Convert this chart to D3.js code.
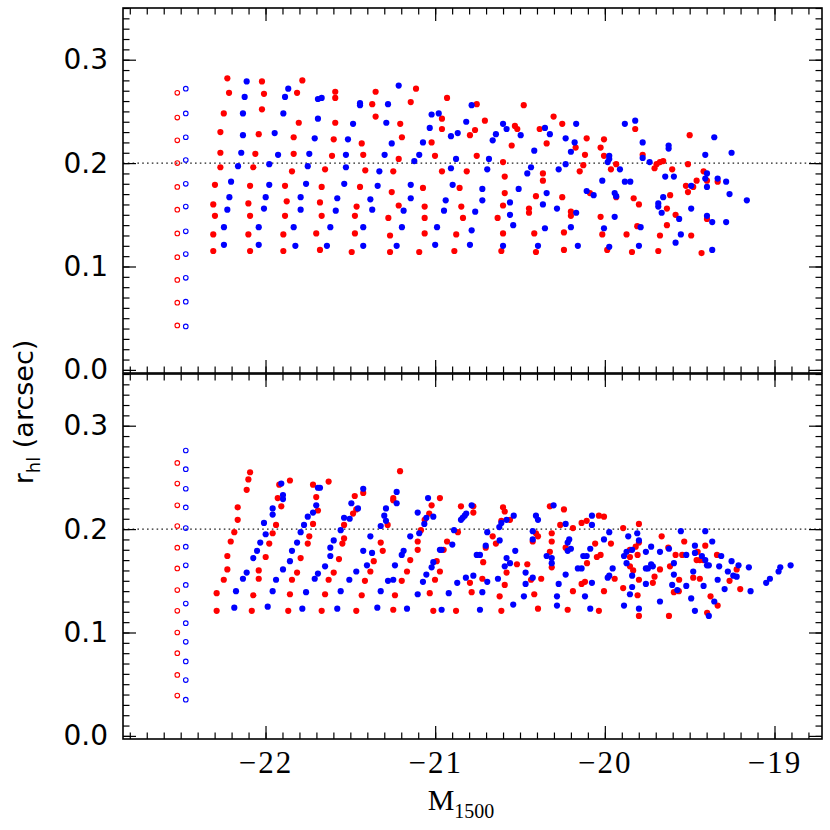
<!DOCTYPE html>
<html><head><meta charset="utf-8">
<script src="https://cdn.jsdelivr.net/npm/d3@7"></script>
<style>body{margin:0;background:#fff}</style></head>
<body><svg id="c" width="830" height="830"></svg>
<script>
// ---- data ----
const xTicks = [-22, -21, -20, -19];
const yTicks = [0.0, 0.1, 0.2, 0.3];
const refLine = 0.2;
const openRedX = -22.52, openBlueX = -22.47;
const topOpenRedY = [0.268,0.244,0.222,0.200,0.177,0.155,0.132,0.109,0.087,0.065,0.043];
const topOpenBlueY = [0.272,0.248,0.225,0.203,0.180,0.158,0.134,0.112,0.089,0.066,0.042];
const botOpenRedY = [0.264,0.244,0.223,0.203,0.182,0.162,0.141,0.121,0.100,0.080,0.059,0.039];
const botOpenBlueY = [0.276,0.258,0.239,0.221,0.201,0.183,0.165,0.146,0.128,0.109,0.091,0.072,0.054,0.035];

const topRed = [[-22.225,0.282],[-22.021,0.279],[-21.783,0.280],[-22.215,0.268],[-22.009,0.267],[-21.814,0.268],[-21.589,0.269],[-21.589,0.263],[-22.246,0.248],[-22.021,0.252],[-21.804,0.239],[-21.589,0.239],[-22.266,0.230],[-22.040,0.228],[-21.834,0.225],[-21.598,0.223],[-22.266,0.210],[-22.060,0.209],[-21.834,0.209],[-21.608,0.207],[-22.266,0.196],[-22.072,0.196],[-21.844,0.192],[-21.649,0.194],[-22.298,0.179],[-22.091,0.178],[-21.885,0.178],[-21.669,0.177],[-22.308,0.160],[-22.101,0.161],[-21.875,0.163],[-21.679,0.162],[-22.298,0.149],[-22.091,0.149],[-21.885,0.149],[-21.669,0.149],[-22.308,0.131],[-22.101,0.131],[-21.895,0.131],[-21.701,0.132],[-22.308,0.115],[-22.091,0.115],[-21.895,0.115],[-21.679,0.116],
[-21.351,0.269],[-21.113,0.272],[-21.371,0.257],[-21.144,0.259],[-20.930,0.263],[-20.755,0.257],[-21.351,0.245],[-21.206,0.238],[-20.960,0.243],[-20.707,0.241],[-21.433,0.219],[-21.196,0.225],[-20.960,0.233],[-20.765,0.232],[-20.795,0.227],[-21.424,0.208],[-21.215,0.204],[-21.021,0.220],[-21.001,0.207],[-20.755,0.207],[-21.412,0.193],[-21.247,0.192],[-20.960,0.192],[-20.814,0.192],[-21.443,0.177],[-21.256,0.172],[-21.072,0.176],[-20.856,0.176],[-21.463,0.158],[-21.215,0.159],[-21.062,0.158],[-20.846,0.158],[-21.473,0.149],[-21.276,0.147],[-21.062,0.147],[-20.836,0.147],[-21.473,0.132],[-21.266,0.130],[-21.062,0.132],[-20.876,0.131],[-21.492,0.114],[-21.266,0.114],[-21.094,0.114],[-20.887,0.115],
[-20.478,0.256],[-20.530,0.236],[-20.516,0.233],[-20.549,0.217],[-20.302,0.245],[-20.251,0.238],[-20.384,0.233],[-20.343,0.219],[-20.107,0.224],[-20.005,0.223],[-20.172,0.215],[-20.025,0.215],[-20.117,0.208],[-20.005,0.207],[-20.600,0.201],[-20.127,0.198],[-19.933,0.199],[-19.964,0.194],[-20.148,0.192],[-20.365,0.190],[-20.590,0.187],[-20.365,0.183],[-20.590,0.171],[-20.406,0.168],[-20.251,0.167],[-20.088,0.171],[-19.933,0.167],[-20.600,0.159],[-20.447,0.156],[-20.447,0.152],[-20.200,0.153],[-20.200,0.149],[-20.632,0.147],[-20.025,0.148],[-20.600,0.132],[-20.416,0.132],[-20.241,0.133],[-20.015,0.131],[-20.610,0.115],[-20.406,0.114],[-20.241,0.116],[-19.986,0.116],
[-19.821,0.233],[-19.500,0.227],[-19.777,0.208],[-19.707,0.195],[-19.695,0.199],[-19.675,0.201],[-19.656,0.202],[-19.603,0.194],[-19.510,0.199],[-19.418,0.192],[-19.459,0.183],[-19.522,0.178],[-19.479,0.177],[-19.510,0.172],[-19.398,0.183],[-19.335,0.182],[-19.615,0.169],[-19.830,0.166],[-19.799,0.160],[-19.634,0.156],[-19.583,0.150],[-19.634,0.140],[-19.809,0.139],[-19.398,0.146],[-19.872,0.131],[-19.675,0.130],[-19.491,0.130],[-19.840,0.114],[-19.685,0.115],[-19.430,0.113]];

const topBlue = [[-22.111,0.279],[-21.866,0.272],[-22.123,0.264],[-21.885,0.264],[-21.691,0.262],[-21.669,0.263],[-22.133,0.248],[-21.895,0.248],[-21.691,0.243],[-22.133,0.227],[-21.946,0.229],[-21.710,0.224],[-22.143,0.210],[-21.926,0.208],[-21.742,0.209],[-22.162,0.197],[-21.978,0.199],[-21.751,0.197],[-22.203,0.182],[-21.978,0.179],[-21.761,0.180],[-22.213,0.167],[-21.999,0.167],[-21.793,0.167],[-21.577,0.166],[-22.225,0.155],[-22.009,0.156],[-21.793,0.155],[-21.586,0.154],[-22.245,0.138],[-22.040,0.138],[-21.834,0.138],[-21.618,0.138],[-22.245,0.121],[-22.040,0.121],[-21.824,0.120],[-21.638,0.120],
[-21.215,0.275],[-21.443,0.258],[-21.443,0.256],[-21.278,0.257],[-20.785,0.256],[-21.021,0.247],[-20.979,0.248],[-21.484,0.238],[-21.288,0.239],[-21.032,0.234],[-20.817,0.240],[-21.514,0.223],[-21.256,0.219],[-21.072,0.220],[-20.907,0.226],[-20.867,0.229],[-21.526,0.208],[-21.298,0.208],[-21.094,0.208],[-21.123,0.202],[-20.877,0.204],[-21.526,0.196],[-21.329,0.192],[-20.907,0.195],[-21.536,0.180],[-21.339,0.178],[-21.144,0.179],[-20.897,0.179],[-20.722,0.175],[-21.382,0.165],[-21.144,0.166],[-20.938,0.164],[-20.722,0.164],[-21.371,0.155],[-21.186,0.154],[-20.948,0.154],[-20.764,0.153],[-21.424,0.138],[-21.196,0.138],[-20.989,0.138],[-20.785,0.135],[-21.424,0.120],[-21.227,0.120],[-21.000,0.121],[-20.795,0.121],
[-20.600,0.238],[-20.579,0.233],[-20.642,0.228],[-20.661,0.222],[-20.496,0.227],[-20.353,0.234],[-20.324,0.228],[-20.169,0.238],[-19.882,0.238],[-20.231,0.224],[-20.178,0.220],[-20.200,0.211],[-20.416,0.212],[-20.683,0.204],[-20.693,0.194],[-20.435,0.196],[-20.457,0.190],[-20.272,0.194],[-20.231,0.199],[-19.974,0.207],[-19.974,0.204],[-19.983,0.201],[-19.911,0.194],[-20.015,0.183],[-19.882,0.182],[-20.508,0.175],[-20.343,0.171],[-20.107,0.173],[-20.066,0.169],[-19.942,0.171],[-19.933,0.168],[-20.559,0.162],[-20.559,0.150],[-20.540,0.140],[-20.365,0.160],[-20.282,0.156],[-20.169,0.152],[-19.942,0.148],[-20.353,0.137],[-20.200,0.138],[-20.005,0.137],[-20.600,0.120],[-20.394,0.120],[-20.159,0.120],[-19.974,0.119],
[-19.821,0.241],[-19.777,0.220],[-19.777,0.205],[-19.736,0.201],[-19.624,0.217],[-19.624,0.214],[-19.355,0.225],[-19.253,0.210],[-19.408,0.208],[-19.644,0.187],[-19.593,0.187],[-19.850,0.182],[-19.398,0.190],[-19.408,0.185],[-19.335,0.185],[-19.285,0.182],[-19.491,0.178],[-19.398,0.177],[-19.265,0.170],[-19.163,0.164],[-19.656,0.167],[-19.685,0.161],[-19.685,0.158],[-19.665,0.152],[-19.562,0.146],[-19.491,0.156],[-19.398,0.149],[-19.367,0.143],[-19.285,0.143],[-19.789,0.138],[-19.552,0.131],[-19.583,0.123],[-19.799,0.120],[-19.367,0.116]];

const botRed = [[-22.091,0.255],[-22.101,0.248],[-22.111,0.238],[-22.164,0.221],[-22.164,0.209],[-22.184,0.197],[-22.205,0.188],[-22.225,0.174],[-22.225,0.161],[-22.246,0.151],[-22.288,0.138],[-22.288,0.121],[-21.919,0.243],[-21.856,0.247],[-21.928,0.230],[-21.907,0.222],[-21.938,0.204],[-21.958,0.196],[-21.978,0.186],[-21.999,0.173],[-22.040,0.160],[-22.040,0.152],[-22.072,0.136],[-22.081,0.121],[-21.720,0.243],[-21.628,0.246],[-21.701,0.231],[-21.691,0.218],[-21.720,0.205],[-21.742,0.193],[-21.751,0.186],[-21.793,0.172],[-21.814,0.158],[-21.844,0.151],[-21.856,0.137],[-21.866,0.121],[-21.537,0.191],[-21.547,0.186],[-21.567,0.171],[-21.598,0.158],[-21.628,0.151],[-21.649,0.137],[-21.669,0.121],[-21.537,0.204],
[-21.207,0.256],[-21.474,0.232],[-21.424,0.235],[-21.465,0.219],[-21.484,0.215],[-21.247,0.230],[-21.247,0.228],[-21.280,0.204],[-21.321,0.187],[-21.309,0.179],[-21.362,0.169],[-21.382,0.159],[-21.414,0.150],[-21.433,0.136],[-21.465,0.121],[-21.021,0.223],[-21.035,0.215],[-21.062,0.209],[-21.084,0.199],[-21.103,0.188],[-21.103,0.180],[-21.147,0.170],[-21.166,0.159],[-21.197,0.150],[-21.237,0.136],[-21.247,0.122],[-20.972,0.230],[-20.930,0.188],[-20.950,0.180],[-20.991,0.169],[-20.972,0.159],[-21.001,0.151],[-21.032,0.138],[-21.011,0.121],[-20.848,0.222],[-20.775,0.222],[-20.775,0.216],[-20.866,0.197],[-20.717,0.168],[-20.722,0.152],[-20.795,0.148],[-20.785,0.139],[-20.877,0.121],
[-20.600,0.221],[-20.590,0.217],[-20.610,0.208],[-20.559,0.209],[-20.661,0.193],[-20.642,0.186],[-20.702,0.182],[-20.579,0.158],[-20.590,0.146],[-20.620,0.135],[-20.610,0.121],[-20.518,0.166],[-20.457,0.166],[-20.435,0.151],[-20.375,0.152],[-20.416,0.137],[-20.394,0.123],[-20.324,0.222],[-20.241,0.219],[-20.263,0.204],[-20.406,0.196],[-20.394,0.193],[-20.425,0.188],[-20.313,0.196],[-20.313,0.188],[-20.324,0.178],[-20.313,0.163],[-20.231,0.182],[-20.188,0.201],[-20.137,0.206],[-20.107,0.208],[-20.035,0.213],[-20.005,0.212],[-20.057,0.186],[-20.047,0.173],[-20.025,0.175],[-19.964,0.186],[-20.105,0.167],[-20.137,0.147],[-20.117,0.149],[-19.942,0.152],[-20.188,0.140],[-20.005,0.140],[-19.892,0.143],[-19.892,0.201],[-20.219,0.122],[-20.035,0.121],
[-19.799,0.205],[-19.799,0.187],[-19.818,0.183],[-19.852,0.180],[-19.807,0.175],[-19.852,0.173],[-19.852,0.164],[-19.833,0.160],[-19.799,0.151],[-19.807,0.136],[-19.799,0.116],[-19.665,0.193],[-19.675,0.161],[-19.707,0.154],[-19.717,0.148],[-19.622,0.116],[-19.626,0.182],[-19.616,0.164],[-19.583,0.175],[-19.544,0.175],[-19.562,0.151],[-19.564,0.140],[-19.593,0.139],[-19.532,0.188],[-19.479,0.153],[-19.440,0.152],[-19.453,0.178],[-19.459,0.170],[-19.440,0.170],[-19.408,0.184],[-19.339,0.175],[-19.420,0.170],[-19.377,0.135],[-19.335,0.126],[-19.397,0.119],[-19.223,0.161],[-19.265,0.150],[-19.202,0.142]];

const botBlue = [[-21.907,0.244],[-21.897,0.233],[-21.897,0.229],[-21.958,0.220],[-21.958,0.214],[-22.009,0.206],[-21.999,0.195],[-22.031,0.187],[-22.050,0.179],[-22.072,0.172],[-22.111,0.158],[-22.133,0.152],[-22.174,0.140],[-22.184,0.124],[-21.691,0.240],[-21.679,0.240],[-21.701,0.223],[-21.720,0.216],[-21.751,0.212],[-21.773,0.204],[-21.793,0.197],[-21.814,0.187],[-21.844,0.179],[-21.856,0.169],[-21.897,0.161],[-21.938,0.151],[-21.958,0.140],[-21.987,0.125],[-21.537,0.211],[-21.557,0.199],[-21.598,0.189],[-21.618,0.182],[-21.618,0.174],[-21.649,0.164],[-21.691,0.157],[-21.710,0.152],[-21.761,0.139],[-21.783,0.123],[-21.577,0.123],[-21.557,0.140],
[-21.424,0.239],[-21.455,0.220],[-21.494,0.225],[-21.504,0.210],[-21.227,0.236],[-21.227,0.225],[-21.290,0.220],[-21.300,0.213],[-21.290,0.208],[-21.321,0.203],[-21.382,0.193],[-21.424,0.179],[-21.372,0.177],[-21.402,0.165],[-21.465,0.159],[-21.506,0.151],[-21.321,0.140],[-21.341,0.124],[-21.042,0.230],[-21.103,0.216],[-21.052,0.211],[-21.011,0.212],[-21.064,0.205],[-21.094,0.196],[-21.147,0.193],[-21.186,0.179],[-21.197,0.175],[-21.237,0.165],[-21.247,0.151],[-21.278,0.150],[-21.103,0.137],[-21.166,0.123],[-20.972,0.180],[-20.962,0.180],[-21.011,0.168],[-21.021,0.163],[-21.052,0.156],[-21.072,0.149],[-20.920,0.138],[-20.962,0.122],[-20.889,0.199],[-20.899,0.185],[-20.785,0.223],[-20.817,0.215],[-20.826,0.213],[-20.838,0.211],[-20.848,0.209],[-20.755,0.175],[-20.736,0.175],[-20.819,0.153],[-20.775,0.155],[-20.870,0.148],[-20.736,0.122],[-20.702,0.184],[-20.722,0.139],
[-20.693,0.197],[-20.622,0.202],[-20.610,0.206],[-20.579,0.209],[-20.537,0.213],[-20.620,0.189],[-20.528,0.179],[-20.579,0.172],[-20.559,0.167],[-20.590,0.164],[-20.630,0.152],[-20.693,0.149],[-20.540,0.127],[-20.302,0.223],[-20.406,0.213],[-20.394,0.209],[-20.425,0.198],[-20.425,0.190],[-20.467,0.158],[-20.425,0.153],[-20.467,0.147],[-20.477,0.135],[-20.343,0.174],[-20.313,0.172],[-20.313,0.167],[-20.272,0.147],[-20.231,0.156],[-20.282,0.135],[-20.282,0.126],[-20.231,0.205],[-20.210,0.190],[-20.219,0.187],[-20.219,0.179],[-20.200,0.181],[-20.086,0.181],[-20.127,0.174],[-20.107,0.174],[-20.159,0.162],[-20.137,0.162],[-20.076,0.213],[-20.076,0.204],[-20.005,0.190],[-19.974,0.197],[-19.954,0.162],[-19.974,0.155],[-19.983,0.153],[-20.076,0.148],[-20.117,0.135],[-20.086,0.123],[-19.887,0.174],[-19.887,0.126],
[-19.862,0.193],[-19.809,0.196],[-19.799,0.189],[-19.872,0.178],[-19.839,0.180],[-19.872,0.167],[-19.839,0.155],[-19.839,0.144],[-19.852,0.137],[-19.799,0.123],[-19.758,0.178],[-19.727,0.183],[-19.758,0.162],[-19.746,0.162],[-19.727,0.166],[-19.717,0.164],[-19.758,0.147],[-19.675,0.178],[-19.622,0.181],[-19.675,0.130],[-19.593,0.167],[-19.593,0.156],[-19.603,0.146],[-19.573,0.141],[-19.552,0.198],[-19.520,0.175],[-19.520,0.145],[-19.491,0.133],[-19.479,0.159],[-19.469,0.184],[-19.469,0.177],[-19.469,0.121],[-19.428,0.174],[-19.418,0.145],[-19.408,0.198],[-19.408,0.170],[-19.398,0.165],[-19.387,0.165],[-19.387,0.116],[-19.367,0.188],[-19.355,0.130],[-19.326,0.164],[-19.335,0.151],[-19.314,0.174],[-19.294,0.142],[-19.275,0.159],[-19.253,0.169],[-19.243,0.155],[-19.223,0.154],[-19.212,0.165],[-19.151,0.163],[-19.141,0.140],[-19.049,0.148],[-19.027,0.152],[-18.976,0.159],[-18.966,0.163],[-18.905,0.165]];

// ---- drawing ----
const RED = "#ff0000", BLUE = "#0000ff";
const svg = d3.select("#c");
svg.append("rect").attr("width",830).attr("height",830).attr("fill","#fff");
const L = 123, Rr = 822;
const xDom = [-22.84, -18.72];
const x = d3.scaleLinear().domain(xDom).range([L, Rr]);
const xMinor = d3.range(-228, -187, 1).map(v => v / 10).filter(v => v >= xDom[0] && v <= xDom[1]);
const yMinor = d3.range(0, 36, 1).map(v => v / 100);

const panels = [
  {top: 8, bottom: 373, red: topRed, blue: topBlue, oR: topOpenRedY, oB: topOpenBlueY, xlab: false},
  {top: 374, bottom: 739, red: botRed, blue: botBlue, oR: botOpenRedY, oB: botOpenBlueY, xlab: true}
];

panels.forEach(p => {
  const y = d3.scaleLinear().domain([-0.003, 0.35]).range([p.bottom, p.top]);
  const g = svg.append("g");

  // reference dotted line
  g.append("line").attr("x1", L).attr("x2", Rr)
    .attr("y1", y(refLine)).attr("y2", y(refLine))
    .attr("stroke", "#222").attr("stroke-width", 1.3).attr("stroke-dasharray", "1.6,3.2");

  // open circles (input sizes)
  g.selectAll(".or").data(p.oR).join("circle")
    .attr("cx", x(openRedX)).attr("cy", d => y(d)).attr("r", 2.3)
    .attr("fill", "none").attr("stroke", RED).attr("stroke-width", 1.1);
  g.selectAll(".ob").data(p.oB).join("circle")
    .attr("cx", x(openBlueX)).attr("cy", d => y(d)).attr("r", 2.3)
    .attr("fill", "none").attr("stroke", BLUE).attr("stroke-width", 1.1);

  // filled points
  g.append("g").selectAll("circle").data(p.red).join("circle")
    .attr("cx", d => x(d[0])).attr("cy", d => y(d[1])).attr("r", 3.1).attr("fill", RED);
  g.append("g").selectAll("circle").data(p.blue).join("circle")
    .attr("cx", d => x(d[0])).attr("cy", d => y(d[1])).attr("r", 3.1).attr("fill", BLUE);

  // axes (ticks inward on all four sides)
  const mk = (axis, tr) => {
    const a = g.append("g").attr("transform", tr).call(axis);
    a.select(".domain").remove();
    a.selectAll("line").attr("stroke", "#000").attr("stroke-width", 1.2);
    return a;
  };
  const yl = mk(d3.axisLeft(y).tickValues(yTicks).tickSize(-13).tickPadding(15).tickFormat(d3.format(".1f")), `translate(${L},0)`);
  yl.selectAll("text").attr("font-family", "DejaVu Sans, sans-serif").attr("font-size", 28).attr("fill", "#000");
  mk(d3.axisLeft(y).tickValues(yMinor).tickSize(-6.5).tickFormat(""), `translate(${L},0)`);
  mk(d3.axisRight(y).tickValues(yTicks).tickSize(-13).tickFormat(""), `translate(${Rr},0)`);
  mk(d3.axisRight(y).tickValues(yMinor).tickSize(-6.5).tickFormat(""), `translate(${Rr},0)`);
  const xb = mk(d3.axisBottom(x).tickValues(xTicks).tickSize(-13).tickPadding(12)
      .tickFormat(d => p.xlab ? "\u2212" + Math.abs(d) : ""), `translate(0,${p.bottom})`);
  xb.selectAll("text").attr("font-family", "Liberation Serif, serif").attr("font-size", 31)
    .attr("letter-spacing", 2).attr("fill", "#000");
  mk(d3.axisBottom(x).tickValues(xMinor).tickSize(-6.5).tickFormat(""), `translate(0,${p.bottom})`);
  mk(d3.axisTop(x).tickValues(xTicks).tickSize(-13).tickFormat(""), `translate(0,${p.top})`);
  mk(d3.axisTop(x).tickValues(xMinor).tickSize(-6.5).tickFormat(""), `translate(0,${p.top})`);

  // frame
  g.append("rect").attr("x", L).attr("y", p.top).attr("width", Rr - L).attr("height", p.bottom - p.top)
    .attr("fill", "none").attr("stroke", "#000").attr("stroke-width", 1.6);
});

// axis titles
const yt = svg.append("text").attr("transform", "translate(33,412) rotate(-90)")
  .attr("text-anchor", "middle").attr("font-family", "DejaVu Sans, sans-serif").attr("font-size", 27).attr("fill", "#000");
yt.append("tspan").text("r");
yt.append("tspan").attr("font-size", 18).attr("dy", 7).text("hl");
yt.append("tspan").attr("dy", -7).text(" (arcsec)");

const xt = svg.append("text").attr("x", 461).attr("y", 810)
  .attr("text-anchor", "middle").attr("font-family", "Liberation Serif, serif").attr("font-size", 30).attr("fill", "#000");
xt.append("tspan").text("M");
xt.append("tspan").attr("font-size", 20).attr("dy", 8).text("1500");
</script>
</body></html>
